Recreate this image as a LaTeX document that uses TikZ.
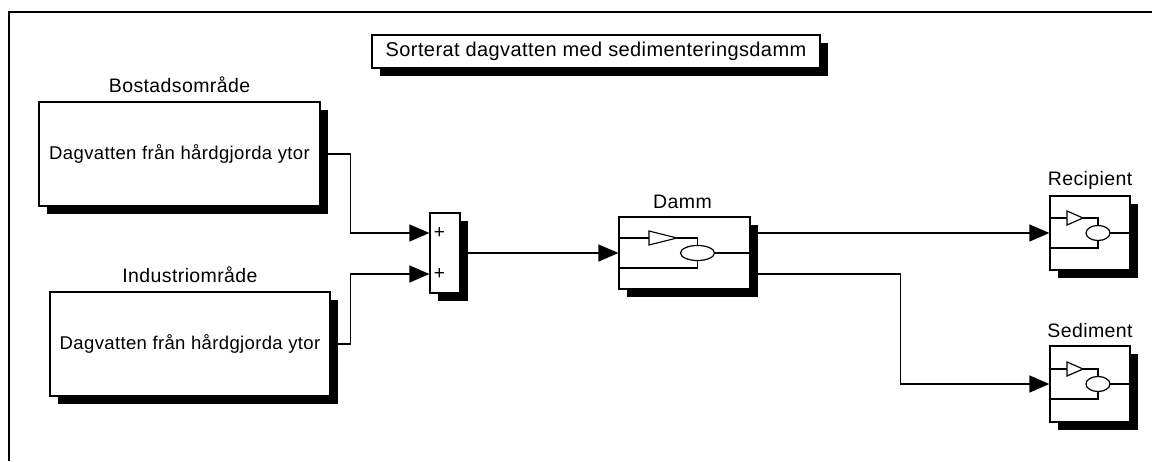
\documentclass[tikz,border=0pt]{standalone}
\usepackage{fontspec}
\setmainfont{Liberation Sans}[LetterSpace=2]
\usetikzlibrary{positioning,shadows,arrows.meta}

\tikzset{
  blockbox/.style={draw, fill=white, line width=1.2pt, inner sep=0pt,
    drop shadow={shadow xshift=8pt, shadow yshift=-8pt, fill=black, opacity=1}},
  lbl/.style={inner sep=1pt, font=\fontsize{19.5}{22}\selectfont},
  flow/.style={line width=1.2pt, -{Triangle[length=20pt,width=17pt]}},
  wire/.style={line width=1.2pt}
}

% icon inside Damm, Recipient, Sediment
\newcommand{\tankicon}[6]{%
  \begin{scope}[shift={(#1.center)}, wire]
    \draw (-#2,-15) -- (#3,-15);
    \draw (#3,-22) -- (#4,-15) -- (#3,-8) -- cycle;
    \draw (#4,-15) -| (#5,-7.5);
    \draw (#5,0) ellipse[x radius=#6, y radius=7.5];
    \draw (#5+#6,0) -- (#2,0);
    \draw (-#2,15) -| (#5,7.5);
  \end{scope}}

\begin{document}
\begin{tikzpicture}[x=1pt, y=-1pt]
  \useasboundingbox (0,0) rectangle (1152,461);
  \draw[line width=1.2pt] (9,461) -- (9,12) -- (1152,12);

  % blocks
  \node[blockbox, minimum width=448pt, minimum height=33pt, font=\fontsize{20}{22}\selectfont]
    (title) at (596,51.5) {Sorterat dagvatten med sedimenteringsdamm};
  \node[blockbox, minimum width=281pt, minimum height=104pt, font=\fontsize{18.5}{22}\selectfont]
    (bostad) at (179.5,154) {Dagvatten från hårdgjorda ytor};
  \node[blockbox, minimum width=280pt, minimum height=104pt, font=\fontsize{18.5}{22}\selectfont]
    (industri) at (190,344) {Dagvatten från hårdgjorda ytor};
  \node[blockbox, minimum width=30pt, minimum height=80pt] (sum) at (445,253) {};
  \node[blockbox, minimum width=131pt, minimum height=72pt] (damm) at (684.5,253) {};
  \node[blockbox, minimum width=80pt, minimum height=74pt] (recip) at (1090,233) {};
  \node[blockbox, minimum width=80pt, minimum height=76pt] (sedim) at (1090,384) {};

  % labels
  \node[lbl, above=8pt of bostad] (bostadlbl) {Bostadsområde};
  \node[lbl, above=8pt of industri] (industrilbl) {Industriområde};
  \node[lbl, above=7pt of damm, xshift=-2pt] (dammlbl) {Damm};
  \node[lbl, above=5pt of recip] (reciplbl) {Recipient};
  \node[lbl, above=7pt of sedim] (sedimlbl) {Sediment};
  \node[font=\fontsize{19}{20}\selectfont, inner sep=0pt] (plusa) at ([xshift=10pt,yshift=20pt]sum.west) {+};
  \node[font=\fontsize{19}{20}\selectfont, inner sep=0pt] (plusb) at ([xshift=10pt,yshift=-21pt]sum.west) {+};

  \tankicon{damm}{65.5}{-35.5}{-7.5}{13}{17}
  \tankicon{recip}{40}{-23}{-7}{8}{12}
  \tankicon{sedim}{40}{-23}{-7}{8}{12}

  % connectors
  \draw[flow] (bostad.east) -- ++(30,0) |- ([yshift=20pt]sum.west);
  \draw[flow] (industri.east) -- ++(20,0) |- ([yshift=-21pt]sum.west);
  \draw[flow] (sum.east) -- (damm.west);
  \draw[flow] ([yshift=20pt]damm.east) -- (recip.west);
  \draw[flow] ([yshift=-21pt]damm.east) -- ++(150,0) |- (sedim.west);
\end{tikzpicture}
\end{document}
